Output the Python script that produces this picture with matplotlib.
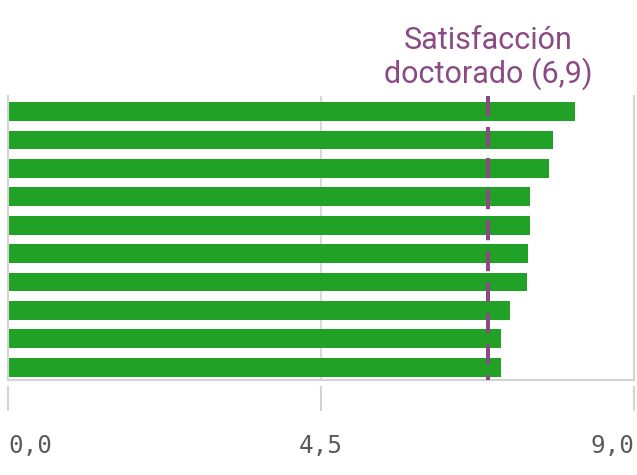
import numpy as np
import matplotlib.pyplot as plt
import matplotlib.transforms as mtransforms

# values, top to bottom
values = [8.15, 7.83, 7.78, 7.51, 7.51, 7.47, 7.46, 7.22, 7.09, 7.09]
ref_value = 6.9
ref_label = "Satisfacción\ndoctorado (6,9)"
xticks = [0, 4.5, 9]
xtick_labels = ["0,0", "4,5", "9,0"]

green = "#21a126"
purple = "#8b4a83"
grey = "#d3d3d3"

fig = plt.figure(figsize=(6.37, 4.75), dpi=100)
ax = fig.add_axes([8/637, 95/475, 626/637, 284/475])

pos = np.arange(len(values))
ax.barh(pos, values, height=0.66, color=green, zorder=2)

ax.set_xlim(0, 9)
ax.set_ylim(9.45, -0.55)
ax.set_yticks([])

ax.set_xticks(xticks)
ax.set_xticklabels(xtick_labels, fontsize=17.5, family="DejaVu Sans Mono", color="#5a5a5a")
for lab, ha in zip(ax.get_xticklabels(), ["left", "center", "right"]):
    lab.set_horizontalalignment(ha)
ax.tick_params(axis="x", length=0, pad=39)

ax.grid(axis="x", color=grey, lw=1.2, zorder=0)
ax.spines["top"].set_visible(False)
for s in ["left", "bottom", "right"]:
    ax.spines[s].set_color(grey)
    ax.spines[s].set_linewidth(1.5)

# tick marks below the axis
trans = mtransforms.blended_transform_factory(ax.transData, ax.transAxes)
ax.vlines(xticks, -0.021, -0.109, transform=trans, color=grey, lw=1.5, clip_on=False)

# reference line
ax.axvline(ref_value, ymin=1, ymax=0, color=purple, lw=2.9, dashes=(5.0, 2.7), zorder=3)
ax.text(ref_value, 1.02, ref_label, transform=trans, ha="center", va="bottom",
        fontsize=22, family="Roboto", color=purple, linespacing=1.1)

fig.savefig("out.png", dpi=100)
